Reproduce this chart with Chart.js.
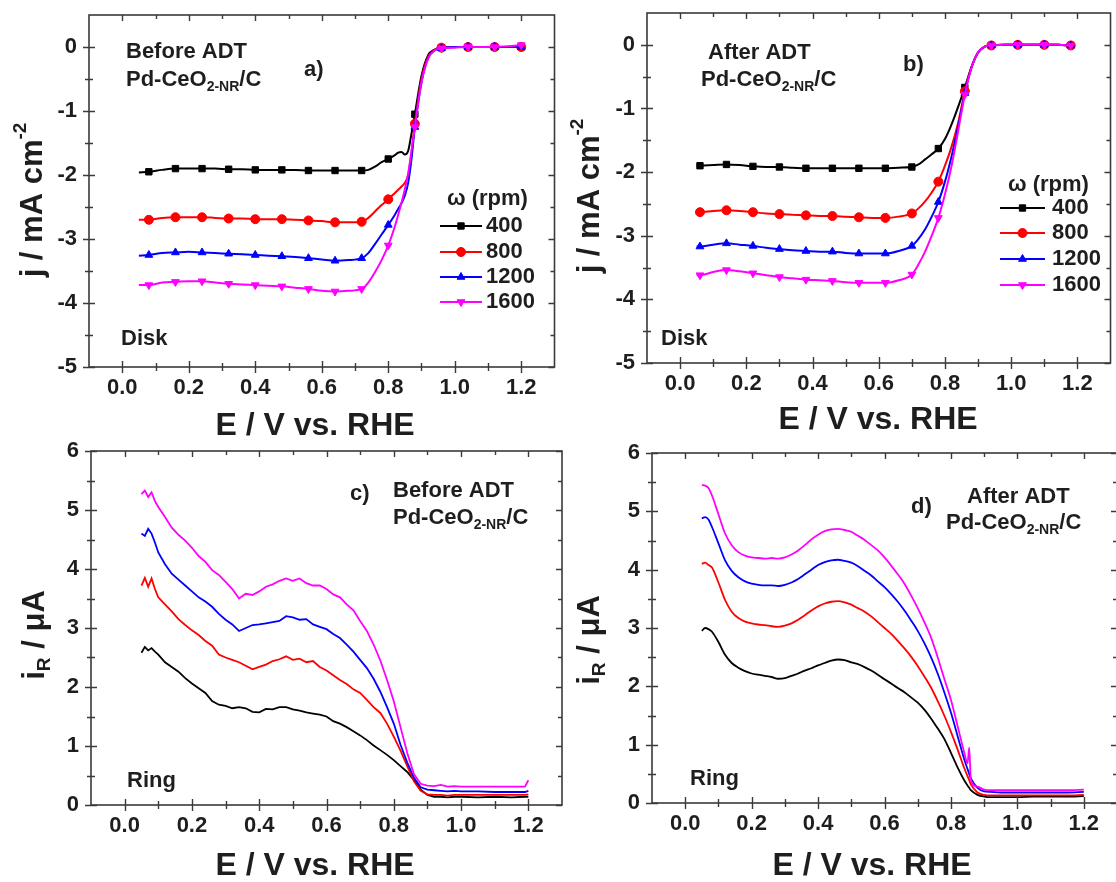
<!DOCTYPE html>
<html>
<head>
<meta charset="utf-8">
<script src="https://cdn.jsdelivr.net/npm/chart.js@4.4.0/dist/chart.umd.min.js"></script>
<style>
  html, body { margin: 0; padding: 0; background: #fff; overflow: hidden; width: 1116px; height: 882px; }
  canvas { position: absolute; }
</style>
</head>
<body>
<canvas id="panelA" width="560" height="440" style="left:0px;top:0px"></canvas>
<canvas id="panelB" width="556" height="440" style="left:560px;top:0px"></canvas>
<canvas id="panelC" width="566" height="442" style="left:0px;top:440px"></canvas>
<canvas id="panelD" width="552" height="442" style="left:566px;top:440px"></canvas>
<script>
var FAMILY = "'Liberation Sans', Arial, sans-serif";
Chart.defaults.font.family = FAMILY;
Chart.defaults.font.weight = 'bold';
Chart.defaults.font.size = 22;
Chart.defaults.color = '#1e1e1e';

// ---- series names / axis ticks ----
const rpmLabels = ['400', '800', '1200', '1600'];
const xTickValues = [0.0, 0.2, 0.4, 0.6, 0.8, 1.0, 1.2];
const xMinorValues = [0.1, 0.3, 0.5, 0.7, 0.9, 1.1];
const yTicksDisk = [-5, -4, -3, -2, -1, 0];
const yMinorDisk = [-4.5, -3.5, -2.5, -1.5, -0.5];
const yTicksRing = [0, 1, 2, 3, 4, 5, 6];
const yMinorRing = [0.5, 1.5, 2.5, 3.5, 4.5, 5.5];

// ---- a) disk, before ADT ----
const eA = [0.05, 0.08, 0.12, 0.16, 0.20, 0.24, 0.28, 0.32, 0.36, 0.40, 0.44, 0.48, 0.52, 0.56, 0.60, 0.64, 0.68, 0.72,
  0.74, 0.76, 0.78, 0.80, 0.82, 0.83, 0.84, 0.85, 0.86, 0.87, 0.88, 0.90, 0.92, 0.94, 0.96, 1.00, 1.04, 1.08, 1.12, 1.16, 1.20];
const a400 = [-1.96, -1.95, -1.92, -1.90, -1.90, -1.90, -1.90, -1.91, -1.91, -1.92, -1.92, -1.92, -1.92, -1.93, -1.93, -1.93, -1.93, -1.93,
  -1.92, -1.87, -1.80, -1.75, -1.69, -1.65, -1.64, -1.68, -1.62, -1.35, -1.05, -0.45, -0.13, -0.04, -0.01, 0, 0, 0, 0, 0, 0];
const a800 = [-2.70, -2.70, -2.67, -2.66, -2.66, -2.66, -2.67, -2.68, -2.68, -2.69, -2.69, -2.69, -2.70, -2.71, -2.72, -2.74, -2.74, -2.73,
  -2.67, -2.57, -2.47, -2.38, -2.28, -2.23, -2.18, -2.12, -2.00, -1.65, -1.20, -0.50, -0.15, -0.04, -0.01, 0, 0, 0, 0, 0, 0];
const a1200 = [-3.26, -3.25, -3.22, -3.21, -3.20, -3.21, -3.22, -3.23, -3.24, -3.25, -3.26, -3.27, -3.28, -3.30, -3.32, -3.34, -3.33, -3.30,
  -3.22, -3.08, -2.93, -2.78, -2.62, -2.53, -2.44, -2.32, -2.12, -1.75, -1.25, -0.55, -0.17, -0.05, -0.02, 0, 0, 0, 0, 0, 0];
const a1600 = [-3.72, -3.72, -3.68, -3.67, -3.66, -3.66, -3.68, -3.70, -3.71, -3.72, -3.73, -3.74, -3.76, -3.78, -3.81, -3.82, -3.81, -3.78,
  -3.68, -3.52, -3.33, -3.10, -2.80, -2.62, -2.43, -2.22, -1.97, -1.62, -1.25, -0.55, -0.18, -0.05, -0.02, -0.01, 0, 0, 0, 0.01, 0.03];
const markersA = [0.08, 0.16, 0.24, 0.32, 0.40, 0.48, 0.56, 0.64, 0.72, 0.80, 0.88, 0.96, 1.04, 1.12, 1.20];

// ---- b) disk, after ADT ----
const eB = [0.05, 0.06, 0.10, 0.14, 0.18, 0.22, 0.26, 0.30, 0.34, 0.38, 0.42, 0.46, 0.50, 0.54, 0.58, 0.62, 0.66, 0.70,
  0.72, 0.74, 0.76, 0.78, 0.80, 0.82, 0.84, 0.86, 0.88, 0.90, 0.92, 0.94, 0.98, 1.02, 1.06, 1.10, 1.14, 1.18];
const b400 = [-1.90, -1.90, -1.89, -1.88, -1.89, -1.91, -1.92, -1.92, -1.93, -1.94, -1.94, -1.94, -1.94, -1.94, -1.94, -1.94, -1.93, -1.92,
  -1.88, -1.80, -1.72, -1.63, -1.48, -1.25, -0.97, -0.67, -0.35, -0.12, -0.03, -0.01, 0, 0, 0, 0, 0, -0.01];
const b800 = [-2.63, -2.63, -2.61, -2.60, -2.61, -2.63, -2.65, -2.66, -2.67, -2.68, -2.69, -2.69, -2.70, -2.71, -2.72, -2.72, -2.70, -2.65,
  -2.57, -2.46, -2.32, -2.15, -1.90, -1.60, -1.22, -0.73, -0.35, -0.12, -0.03, -0.01, 0, 0, 0, 0, 0, -0.01];
const b1200 = [-3.17, -3.17, -3.14, -3.12, -3.14, -3.16, -3.19, -3.21, -3.23, -3.24, -3.25, -3.25, -3.27, -3.28, -3.28, -3.28, -3.24, -3.16,
  -3.05, -2.90, -2.70, -2.47, -2.15, -1.75, -1.28, -0.76, -0.36, -0.12, -0.03, -0.01, 0, 0, 0, 0, 0, -0.01];
const b1600 = [-3.62, -3.62, -3.57, -3.54, -3.56, -3.59, -3.62, -3.65, -3.67, -3.69, -3.70, -3.71, -3.73, -3.74, -3.74, -3.74, -3.70, -3.61,
  -3.45, -3.25, -3.00, -2.72, -2.35, -1.90, -1.35, -0.78, -0.36, -0.12, -0.03, -0.01, 0, 0, 0, 0, 0, -0.01];
const markersB = [0.06, 0.14, 0.22, 0.30, 0.38, 0.46, 0.54, 0.62, 0.70, 0.78, 0.86, 0.94, 1.02, 1.10, 1.18];

// ---- c) ring, before ADT ----
const eC = [0.05, 0.06, 0.07, 0.08, 0.09, 0.10, 0.12, 0.14, 0.16, 0.18, 0.20, 0.22, 0.24, 0.26, 0.28,
  0.30, 0.32, 0.34, 0.36, 0.38, 0.40, 0.42, 0.44, 0.46, 0.48, 0.50, 0.52, 0.54, 0.56, 0.58,
  0.60, 0.62, 0.64, 0.66, 0.68, 0.70, 0.72, 0.74, 0.76, 0.78, 0.80, 0.82, 0.84, 0.86, 0.88,
  0.90, 0.92, 0.94, 0.96, 0.98, 1.00, 1.05, 1.10, 1.15, 1.19, 1.20];
const c400 = [2.58, 2.68, 2.62, 2.66, 2.60, 2.55, 2.42, 2.34, 2.26, 2.15, 2.06, 1.98, 1.90, 1.76, 1.70,
  1.68, 1.64, 1.66, 1.64, 1.58, 1.57, 1.63, 1.62, 1.66, 1.66, 1.62, 1.60, 1.57, 1.55, 1.53,
  1.50, 1.42, 1.38, 1.32, 1.25, 1.18, 1.10, 1.01, 0.93, 0.85, 0.76, 0.66, 0.56, 0.42, 0.26,
  0.17, 0.14, 0.14, 0.13, 0.14, 0.14, 0.13, 0.14, 0.13, 0.14, 0.14];
const c800 = [3.72, 3.85, 3.70, 3.84, 3.66, 3.52, 3.40, 3.28, 3.15, 3.05, 2.96, 2.88, 2.78, 2.70, 2.55,
  2.50, 2.46, 2.42, 2.36, 2.30, 2.34, 2.38, 2.44, 2.47, 2.52, 2.46, 2.48, 2.42, 2.44, 2.34,
  2.28, 2.20, 2.12, 2.05, 1.96, 1.90, 1.78, 1.66, 1.56, 1.38, 1.16, 0.92, 0.66, 0.40, 0.24,
  0.18, 0.17, 0.17, 0.16, 0.17, 0.17, 0.17, 0.17, 0.17, 0.17, 0.18];
const c1200 = [4.60, 4.56, 4.68, 4.60, 4.45, 4.28, 4.08, 3.92, 3.82, 3.72, 3.62, 3.52, 3.45, 3.36, 3.24,
  3.14, 3.06, 2.95, 3.00, 3.05, 3.06, 3.08, 3.10, 3.12, 3.20, 3.18, 3.14, 3.15, 3.06, 3.02,
  2.98, 2.90, 2.83, 2.72, 2.60, 2.46, 2.32, 2.14, 1.92, 1.66, 1.38, 1.02, 0.72, 0.46, 0.30,
  0.26, 0.25, 0.24, 0.23, 0.24, 0.23, 0.23, 0.22, 0.22, 0.22, 0.24];
const c1600 = [5.27, 5.33, 5.22, 5.30, 5.15, 5.05, 4.88, 4.70, 4.58, 4.48, 4.36, 4.22, 4.12, 3.98, 3.90,
  3.78, 3.66, 3.50, 3.58, 3.56, 3.62, 3.70, 3.74, 3.80, 3.84, 3.80, 3.84, 3.76, 3.72, 3.72,
  3.66, 3.57, 3.52, 3.40, 3.30, 3.12, 2.95, 2.72, 2.45, 2.12, 1.76, 1.32, 0.88, 0.52, 0.36,
  0.33, 0.32, 0.34, 0.31, 0.32, 0.31, 0.31, 0.31, 0.31, 0.31, 0.42];

// ---- d) ring, after ADT ----
const eD = [0.05, 0.06, 0.07, 0.08, 0.10, 0.12, 0.14, 0.16, 0.18, 0.20, 0.22, 0.24, 0.26, 0.28,
  0.30, 0.32, 0.34, 0.36, 0.38, 0.40, 0.42, 0.44, 0.46, 0.48, 0.50, 0.52, 0.54, 0.56, 0.58,
  0.60, 0.62, 0.64, 0.66, 0.68, 0.70, 0.72, 0.74, 0.76, 0.78, 0.80, 0.82, 0.84,
  0.85, 0.855, 0.86, 0.88, 0.90, 0.92, 0.95, 1.00, 1.05, 1.10, 1.15, 1.20];
const d400 = [2.95, 3.00, 2.98, 2.94, 2.76, 2.54, 2.40, 2.32, 2.26, 2.22, 2.20, 2.18, 2.16, 2.13,
  2.14, 2.18, 2.22, 2.27, 2.31, 2.36, 2.40, 2.44, 2.46, 2.45, 2.41, 2.38, 2.33, 2.27, 2.20,
  2.12, 2.05, 1.97, 1.90, 1.81, 1.72, 1.60, 1.45, 1.28, 1.10, 0.86, 0.61, 0.39,
  0.30, 0.26, 0.22, 0.14, 0.11, 0.10, 0.10, 0.10, 0.11, 0.11, 0.11, 0.12];
const d800 = [4.10, 4.12, 4.08, 4.04, 3.78, 3.48, 3.28, 3.17, 3.11, 3.08, 3.06, 3.05, 3.03, 3.02,
  3.04, 3.08, 3.14, 3.22, 3.30, 3.37, 3.42, 3.45, 3.46, 3.44, 3.40, 3.34, 3.28, 3.20, 3.10,
  3.00, 2.90, 2.78, 2.65, 2.51, 2.35, 2.17, 1.98, 1.75, 1.50, 1.22, 0.92, 0.60,
  0.46, 0.39, 0.32, 0.18, 0.14, 0.13, 0.13, 0.13, 0.13, 0.13, 0.13, 0.14];
const d1200 = [4.88, 4.90, 4.86, 4.74, 4.45, 4.16, 3.98, 3.87, 3.80, 3.76, 3.74, 3.73, 3.73, 3.72,
  3.74, 3.78, 3.84, 3.92, 4.00, 4.08, 4.13, 4.16, 4.17, 4.15, 4.12, 4.06, 3.98, 3.90, 3.80,
  3.70, 3.58, 3.45, 3.30, 3.13, 2.95, 2.74, 2.50, 2.22, 1.90, 1.55, 1.15, 0.75,
  0.58, 0.50, 0.42, 0.26, 0.20, 0.19, 0.18, 0.18, 0.18, 0.18, 0.18, 0.19];
const d1600 = [5.45, 5.44, 5.40, 5.28, 4.95, 4.62, 4.42, 4.30, 4.24, 4.21, 4.20, 4.19, 4.20, 4.19,
  4.21, 4.26, 4.33, 4.42, 4.52, 4.60, 4.66, 4.69, 4.70, 4.68, 4.65, 4.58, 4.51, 4.42, 4.33,
  4.21, 4.07, 3.92, 3.76, 3.56, 3.34, 3.10, 2.84, 2.50, 2.13, 1.77, 1.32, 0.87,
  0.68, 0.95, 0.40, 0.28, 0.23, 0.22, 0.22, 0.22, 0.22, 0.22, 0.22, 0.23];

// ---- styling ----
const seriesColors = ['#000000', '#ff0000', '#0000ff', '#ff00ff'];
const markerStyles = ['rect', 'circle', 'triangle', 'triangle'];
const markerRotation = [0, 0, 0, 180];
const subName = [['Pd-CeO', 'n'], ['2-NR', 'sub'], ['/C', 'n']];

function isMarker(list, x) {
  return list.some(m => Math.abs(m - x) < 1e-6);
}

function buildDatasets(xs, ys, markers, smooth, width) {
  return ys.map((vals, i) => ({
    label: rpmLabels[i],
    data: xs.map((x, k) => ({ x: x, y: vals[k] })),
    borderColor: seriesColors[i],
    backgroundColor: seriesColors[i],
    borderWidth: width,
    pointStyle: markerStyles[i],
    rotation: markerRotation[i],
    pointRadius: c => (markers && c.raw && isMarker(markers, c.raw.x)) ? 4.5 : 0,
    pointBorderWidth: 1,
    pointHoverRadius: 0,
    cubicInterpolationMode: smooth ? 'monotone' : 'default',
    tension: 0,
    order: 3 - i,
  }));
}

function drawRich(ctx, parts, x, y, size, align) {
  const fontFor = p => 'bold ' + (p[1] === 'n' ? size : Math.round(size * 0.62)) + 'px ' + FAMILY;
  let w = 0;
  parts.forEach(p => { ctx.font = fontFor(p); w += ctx.measureText(p[0]).width; });
  let cx = align === 'center' ? x - w / 2 : x;
  ctx.textAlign = 'left';
  ctx.textBaseline = 'middle';
  parts.forEach(p => {
    ctx.font = fontFor(p);
    const dy = p[1] === 'sub' ? size * 0.32 : (p[1] === 'sup' ? -size * 0.38 : 0);
    ctx.fillText(p[0], cx, y + dy);
    cx += ctx.measureText(p[0]).width;
  });
}

// frame, ticks on all four sides, titles, labels and the rpm legend
function decor(spec) {
  return {
    id: 'decor',
    afterDraw(chart) {
      const ctx = chart.ctx, a = chart.chartArea;
      const xs = chart.scales.x, ys = chart.scales.y;
      ctx.save();
      ctx.strokeStyle = '#3a3a3a';
      ctx.lineWidth = 1.6;
      ctx.strokeRect(a.left, a.top, a.right - a.left, a.bottom - a.top);
      ctx.lineWidth = 1.4;
      ctx.beginPath();
      const xt = (vals, len) => vals.forEach(v => {
        const p = Math.round(xs.getPixelForValue(v)) + 0.5;
        ctx.moveTo(p, a.bottom - len); ctx.lineTo(p, a.bottom + len);
        ctx.moveTo(p, a.top); ctx.lineTo(p, a.top + len);
      });
      const yt = (vals, len) => vals.forEach(v => {
        const p = Math.round(ys.getPixelForValue(v)) + 0.5;
        ctx.moveTo(a.left - len, p); ctx.lineTo(a.left + len, p);
        ctx.moveTo(a.right, p); ctx.lineTo(a.right - len, p);
      });
      xt(xTickValues, 6); xt(xMinorValues, 4);
      yt(spec.yMajor, 6); yt(spec.yMinor, 4);
      ctx.stroke();

      ctx.fillStyle = '#1e1e1e';
      drawRich(ctx, spec.xTitle.parts, spec.xTitle.x, spec.xTitle.y, 32, 'center');
      ctx.save();
      ctx.translate(spec.yTitle.x, spec.yTitle.y);
      ctx.rotate(-Math.PI / 2);
      drawRich(ctx, spec.yTitle.parts, 0, 0, 31, 'center');
      ctx.restore();
      spec.notes.forEach(n => drawRich(ctx, n.parts, n.x, n.y, n.size || 22, 'left'));

      if (spec.legend) {
        const L = spec.legend;
        drawRich(ctx, [['\u03c9 (rpm)', 'n']], L.titleX, L.titleY, 22, 'left');
        chart.data.datasets.forEach((ds, i) => {
          const y = L.ys[i];
          ctx.strokeStyle = ds.borderColor;
          ctx.fillStyle = ds.borderColor;
          ctx.lineWidth = 2;
          ctx.beginPath(); ctx.moveTo(L.x0, y); ctx.lineTo(L.x1, y); ctx.stroke();
          ctx.lineWidth = 1;
          Chart.helpers.drawPoint(ctx, { pointStyle: ds.pointStyle, rotation: ds.rotation, radius: 4.5, borderWidth: 1 }, (L.x0 + L.x1) / 2, y);
          ctx.fillStyle = '#1e1e1e';
          drawRich(ctx, [[ds.label, 'n']], L.tx, y, 22, 'left');
        });
      }
      ctx.restore();
    }
  };
}

function makePanel(id, spec) {
  const canvas = document.getElementById(id);
  return new Chart(canvas, {
    type: 'line',
    data: { datasets: spec.datasets },
    options: {
      responsive: false,
      animation: false,
      events: [],
      layout: { padding: { left: 0, top: spec.area.top, right: canvas.width - spec.area.right, bottom: 0 } },
      plugins: { legend: { display: false }, tooltip: { enabled: false } },
      scales: {
        x: {
          type: 'linear', min: -0.1, max: 1.3,
          grid: { display: false, drawTicks: false },
          border: { display: false },
          afterBuildTicks: s => { s.ticks = xTickValues.map(v => ({ value: v })); },
          afterFit: s => {
            s.height = canvas.height - spec.area.bottom;
            s.paddingLeft = 0; s.paddingRight = 0;
          },
          ticks: { padding: 8, maxRotation: 0, autoSkip: false, callback: v => v.toFixed(1) },
        },
        y: {
          type: 'linear', min: spec.yMin, max: spec.yMax,
          grid: { display: false, drawTicks: false },
          border: { display: false },
          afterBuildTicks: s => { s.ticks = spec.yMajor.map(v => ({ value: v })); },
          afterFit: s => {
            s.width = spec.area.left;
            s.paddingTop = 0; s.paddingBottom = 0;
          },
          ticks: { padding: 12, autoSkip: false, callback: v => String(v) },
        },
      },
    },
    plugins: [decor(spec)],
  });
}

const xTitle = [['E / V vs. RHE', 'n']];
const diskTitle = [['j / mA cm', 'n'], ['-2', 'sup']];
const ringTitle = [['i', 'n'], ['R', 'sub'], [' / \u03bcA', 'n']];

makePanel('panelA', {
  datasets: buildDatasets(eA, [a400, a800, a1200, a1600], markersA, true, 2),
  area: { left: 89, top: 15, right: 556, bottom: 367 },
  yMin: -5, yMax: 0.5, yMajor: yTicksDisk, yMinor: yMinorDisk,
  xTitle: { parts: xTitle, x: 315, y: 426 },
  yTitle: { parts: diskTitle, x: 33, y: 200 },
  notes: [
    { parts: [['Before ADT', 'n']], x: 126, y: 52 },
    { parts: subName, x: 126, y: 80 },
    { parts: [['a)', 'n']], x: 304, y: 70 },
    { parts: [['Disk', 'n']], x: 121, y: 339 },
  ],
  legend: { titleX: 447, titleY: 199, x0: 440, x1: 482, tx: 486, ys: [226, 252, 277, 302] },
});

makePanel('panelB', {
  datasets: buildDatasets(eB, [b400, b800, b1200, b1600], markersB, true, 2),
  area: { left: 87, top: 13, right: 554, bottom: 363 },
  yMin: -5, yMax: 0.5, yMajor: yTicksDisk, yMinor: yMinorDisk,
  xTitle: { parts: xTitle, x: 318, y: 420 },
  yTitle: { parts: diskTitle, x: 30, y: 196 },
  notes: [
    { parts: [['After ADT', 'n']], x: 148, y: 53 },
    { parts: subName, x: 141, y: 80 },
    { parts: [['b)', 'n']], x: 343, y: 65 },
    { parts: [['Disk', 'n']], x: 101, y: 339 },
  ],
  legend: { titleX: 448, titleY: 185, x0: 440, x1: 485, tx: 492, ys: [208, 233, 259, 285] },
});

makePanel('panelC', {
  datasets: buildDatasets(eC, [c400, c800, c1200, c1600], null, false, 1.8),
  area: { left: 91, top: 11, right: 562, bottom: 365 },
  yMin: 0, yMax: 6, yMajor: yTicksRing, yMinor: yMinorRing,
  xTitle: { parts: xTitle, x: 315, y: 426 },
  yTitle: { parts: ringTitle, x: 35, y: 195 },
  notes: [
    { parts: [['c)', 'n']], x: 350, y: 54 },
    { parts: [['Before ADT', 'n']], x: 393, y: 51 },
    { parts: subName, x: 393, y: 78 },
    { parts: [['Ring', 'n']], x: 127, y: 341 },
  ],
});

makePanel('panelD', {
  datasets: buildDatasets(eD, [d400, d800, d1200, d1600], null, true, 1.8),
  area: { left: 86, top: 13, right: 551, bottom: 363 },
  yMin: 0, yMax: 6, yMajor: yTicksRing, yMinor: yMinorRing,
  xTitle: { parts: xTitle, x: 306, y: 426 },
  yTitle: { parts: ringTitle, x: 24, y: 200 },
  notes: [
    { parts: [['d)', 'n']], x: 345, y: 67 },
    { parts: [['After ADT', 'n']], x: 401, y: 57 },
    { parts: subName, x: 380, y: 83 },
    { parts: [['Ring', 'n']], x: 124, y: 339 },
  ],
});
</script>
</body>
</html>
